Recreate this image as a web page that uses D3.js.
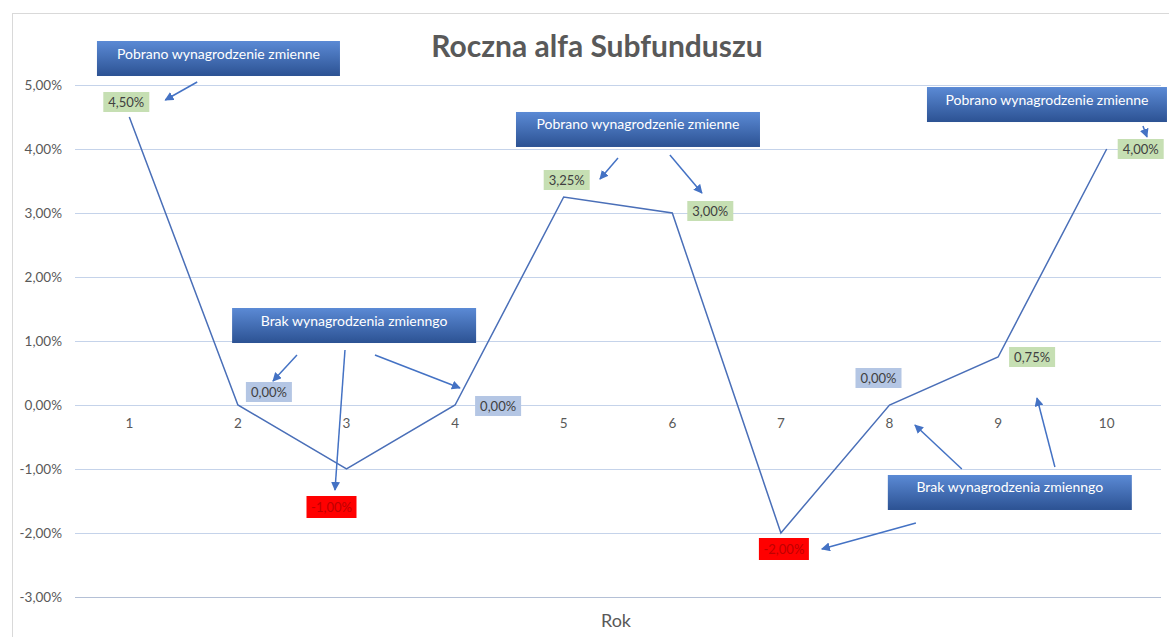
<!DOCTYPE html>
<html>
<head>
<meta charset="utf-8">
<script src="https://cdn.jsdelivr.net/npm/d3@7"></script>
<style>
  body { margin: 0; background: #fff; }
  svg text { font-family: Lato, "Open Sans", sans-serif; }
</style>
</head>
<body>
<div id="chart"></div>
<script>
const width = 1169;
const height = 637;

// data
const years = [1, 2, 3, 4, 5, 6, 7, 8, 9, 10];
const alpha = [4.5, 0, -1, 0, 3.25, 3, -2, 0, 0.75, 4];
const yTicks = [-3, -2, -1, 0, 1, 2, 3, 4, 5];
const labelDx = [-3, 31, -15, 43, 3, 38, 3, -11, 34, 34];
const labelDy = [-15, -13, 38, 1, -17, -2, 16, -27, 0, 0];

// annotation boxes, centre in (year, value) units
const notes = [
	{ text: "Pobrano wynagrodzenie zmienne", x: 1.821, y: 5.414, w: 243 },
	{ text: "Pobrano wynagrodzenie zmienne", x: 5.684, y: 4.305, w: 244 },
	{ text: "Pobrano wynagrodzenie zmienne", x: 9.45, y: 4.695, w: 240 },
	{ text: "Brak wynagrodzenia zmienngo", x: 3.07, y: 1.242, w: 244 },
	{ text: "Brak wynagrodzenia zmienngo", x: 9.108, y: -1.367, w: 244 }
];
// arrows [x1, y1, x2, y2] in (year, value) units
const arrows = [
	[1.625, 5.047, 1.331, 4.766],
	[5.5, 3.859, 5.334, 3.531],
	[5.978, 3.906, 6.273, 3.313],
	[10.334, 4.359, 10.371, 4.188],
	[2.544, 0.781, 2.323, 0.375],
	[2.986, 0.859, 2.894, -1.328],
	[3.262, 0.781, 4.045, 0.266],
	[8.666, -1.0, 8.234, -0.3125],
	[9.523, -0.969, 9.358, 0.109],
	[8.243, -1.844, 7.377, -2.25]
];

const fmt = v => v.toFixed(2).replace(".", ",") + "%";

const svg = d3.select("#chart").append("svg")
	.attr("width", width)
	.attr("height", height);

const defs = svg.append("defs");
const grad = defs.append("linearGradient")
	.attr("id", "boxgrad")
	.attr("x1", 0).attr("y1", 0).attr("x2", 0).attr("y2", 1);
grad.append("stop").attr("offset", "0%").attr("stop-color", "#5b8ad5");
grad.append("stop").attr("offset", "100%").attr("stop-color", "#2c5293");

defs.append("marker")
	.attr("id", "arrowhead")
	.attr("viewBox", "0 0 10 10")
	.attr("refX", 9).attr("refY", 5)
	.attr("markerWidth", 6).attr("markerHeight", 6)
	.attr("orient", "auto")
	.append("path")
	.attr("d", "M0,0 L10,5 L0,10 z")
	.attr("fill", "#4472c4");

// chart frame
svg.append("rect")
	.attr("x", 12.5).attr("y", 13.5)
	.attr("width", 1160).attr("height", 640)
	.attr("fill", "none")
	.attr("stroke", "#d9d9d9");

const x = d3.scalePoint().domain(years).range([75, 1161]).padding(0.5);
const y = d3.scaleLinear().domain([-3, 5]).range([597, 85]);
const xv = d3.scaleLinear().domain([1, 10]).range([x(1), x(10)]);

// gridlines
svg.append("g")
	.selectAll("line")
	.data(yTicks)
	.join("line")
	.attr("x1", 75).attr("x2", 1161)
	.attr("y1", d => y(d) + 0.5).attr("y2", d => y(d) + 0.5)
	.attr("stroke", d => d === -3 ? "#b4c0d6" : "#c5d3ea")
	.attr("stroke-width", 1);

// y labels
svg.append("g")
	.selectAll("text")
	.data(yTicks)
	.join("text")
	.attr("x", 62)
	.attr("y", d => y(d) + 5)
	.attr("text-anchor", "end")
	.style("font-size", "13.5px")
	.style("fill", "#595959")
	.text(d => fmt(d));

// x labels next to zero axis
svg.append("g")
	.selectAll("text")
	.data(years)
	.join("text")
	.attr("x", d => x(d))
	.attr("y", y(0) + 23)
	.attr("text-anchor", "middle")
	.style("font-size", "13.5px")
	.style("fill", "#595959")
	.text(d => d);

// line
svg.append("path")
	.datum(years.map((d, i) => [d, alpha[i]]))
	.attr("d", d3.line().x(d => x(d[0])).y(d => y(d[1])))
	.attr("fill", "none")
	.attr("stroke", "#4a6fb8")
	.attr("stroke-width", 1.5);

// data labels
const lab = svg.append("g")
	.selectAll("g")
	.data(years)
	.join("g")
	.attr("transform", (d, i) => `translate(${x(d) + labelDx[i]},${y(alpha[i]) + labelDy[i]})`);

lab.append("rect")
	.attr("x", (d, i) => alpha[i] < 0 ? -25 : -23)
	.attr("y", (d, i) => alpha[i] < 0 ? -11 : -10)
	.attr("width", (d, i) => alpha[i] < 0 ? 50 : 46)
	.attr("height", (d, i) => alpha[i] < 0 ? 22 : 20)
	.attr("fill", (d, i) => alpha[i] > 0 ? "#c6dfb3" : alpha[i] === 0 ? "#b4c6e4" : "#ff0000");

lab.append("text")
	.attr("y", 5)
	.attr("text-anchor", "middle")
	.style("font-size", "13px")
	.style("fill", (d, i) => alpha[i] < 0 ? "#c00000" : "#404040")
	.text((d, i) => fmt(alpha[i]));

// annotation boxes
const note = svg.append("g")
	.selectAll("g")
	.data(notes)
	.join("g")
	.attr("transform", d => `translate(${xv(d.x)},${y(d.y)})`);

note.append("rect")
	.attr("x", d => -d.w / 2)
	.attr("y", -17.5)
	.attr("width", d => d.w)
	.attr("height", 35)
	.attr("fill", "url(#boxgrad)");

note.append("text")
	.attr("y", 0)
	.attr("text-anchor", "middle")
	.style("font-size", "14px")
	.style("fill", "#ffffff")
	.text(d => d.text);

// arrows
svg.append("g")
	.selectAll("line")
	.data(arrows)
	.join("line")
	.attr("x1", d => xv(d[0])).attr("y1", d => y(d[1]))
	.attr("x2", d => xv(d[2])).attr("y2", d => y(d[3]))
	.attr("stroke", "#4472c4")
	.attr("stroke-width", 1.5)
	.attr("marker-end", "url(#arrowhead)");

// title
svg.append("text")
	.attr("x", 597)
	.attr("y", 57)
	.attr("text-anchor", "middle")
	.style("font-size", "30px")
	.style("font-weight", "bold")
	.style("fill", "#595959")
	.text("Roczna alfa Subfunduszu");

// axis title
svg.append("text")
	.attr("x", 616)
	.attr("y", 627)
	.attr("text-anchor", "middle")
	.style("font-size", "18px")
	.style("fill", "#595959")
	.text("Rok");
</script>
</body>
</html>
